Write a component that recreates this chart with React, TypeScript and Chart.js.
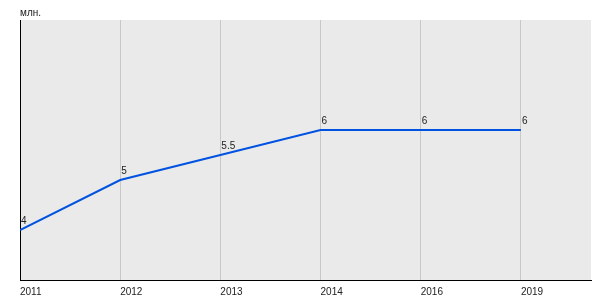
import React, { useEffect, useRef } from "react";
import { Chart, registerables } from "chart.js";

Chart.register(...registerables);

const categories = ["2011", "2012", "2013", "2014", "2016", "2019"];
const values = [4, 5, 5.5, 6, 6, 6];
const valueLabels = ["4", "5", "5.5", "6", "6", "6"];
const unitLabel = "млн.";

const bgPlugin = {
  id: "plotBg",
  beforeDraw(chart: any) {
    const { ctx, chartArea } = chart;
    ctx.save();
    ctx.fillStyle = "#eaeaea";
    ctx.fillRect(chartArea.left, chartArea.top, chartArea.right - chartArea.left, chartArea.bottom - chartArea.top);
    ctx.restore();
  },
};

const labelPlugin = {
  id: "valueLabels",
  afterDatasetsDraw(chart: any) {
    const { ctx } = chart;
    const meta = chart.getDatasetMeta(0);
    ctx.save();
    ctx.font = "10px 'Liberation Sans', Arial, sans-serif";
    ctx.fillStyle = "#222";
    ctx.textAlign = "left";
    ctx.textBaseline = "alphabetic";
    meta.data.forEach((pt: any, i: number) => {
      ctx.fillText(valueLabels[i], pt.x + 1, pt.y - 6);
    });
    ctx.restore();
  },
};

export default function App() {
  const ref = useRef<HTMLCanvasElement>(null);
  useEffect(() => {
    document.body.style.margin = "0";
    const chart = new Chart(ref.current as HTMLCanvasElement, {
      type: "line",
      data: {
        datasets: [
          {
            data: values.map((v, i) => ({ x: i, y: v })),
            borderColor: "#0052e0",
            borderWidth: 2,
            pointRadius: 0,
            tension: 0,
            fill: false,
          },
        ],
      },
      options: {
        responsive: false,
        animation: false,
        font: { family: "'Liberation Sans', Arial, sans-serif", size: 10 },
        layout: { padding: { left: 20, right: 9, top: 0, bottom: 0 } },
        plugins: {
          legend: { display: false },
          tooltip: { enabled: false },
          title: {
            display: true,
            text: unitLabel,
            align: "start",
            color: "#222",
            font: { family: "'Liberation Sans', Arial, sans-serif", size: 10, weight: "normal" },
            padding: { top: 7, bottom: 1 },
          },
        },
        scales: {
          x: {
            type: "linear",
            min: 0,
            max: 5.7,
            afterBuildTicks(scale: any) {
              scale.ticks = scale.ticks.filter((t: any) => Number.isInteger(t.value) && t.value < categories.length);
            },
            afterFit(scale: any) {
              scale.height = 20;
            },
            ticks: {
              stepSize: 1,
              align: "start",
              maxRotation: 0,
              autoSkip: false,
              padding: 6,
              color: "#222",
              font: { family: "'Liberation Sans', Arial, sans-serif", size: 10 },
              callback: (v: any) => categories[v] ?? "",
            },
            grid: { display: true, color: "#c8c8c8", lineWidth: 1, drawTicks: false },
            border: { display: true, color: "#000", width: 1 },
          },
          y: {
            min: 3,
            max: 8.2,
            ticks: { display: false },
            grid: { display: false, drawTicks: false },
            border: { display: true, color: "#000", width: 1 },
          },
        },
      },
      plugins: [bgPlugin, labelPlugin],
    } as any);
    return () => chart.destroy();
  }, []);
  return <canvas ref={ref} width={600} height={300} style={{ display: "block" }} />;
}
